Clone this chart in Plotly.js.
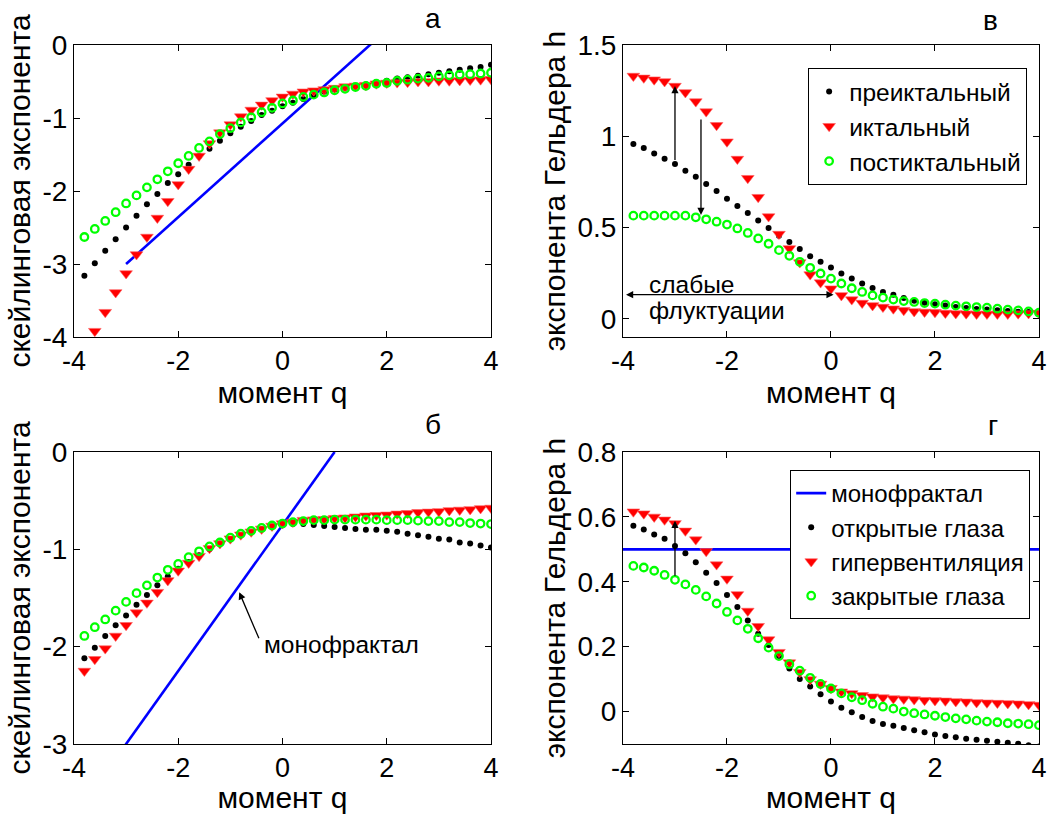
<!DOCTYPE html>
<html>
<head>
<meta charset="utf-8">
<script src="https://cdn.plot.ly/plotly-3.0.1.min.js"></script>
<style>html,body{margin:0;padding:0;background:#fff;}#chart{width:1055px;height:814px;}</style>
</head>
<body>
<div id="chart"></div>
<script>
// moment q grid
const q = [-3.8,-3.6,-3.4,-3.2,-3.0,-2.8,-2.6,-2.4,-2.2,-2.0,-1.8,-1.6,-1.4,-1.2,-1.0,-0.8,-0.6,-0.4,-0.2,0,
           0.2,0.4,0.6,0.8,1.0,1.2,1.4,1.6,1.8,2.0,2.2,2.4,2.6,2.8,3.0,3.2,3.4,3.6,3.8,4.0];

// panel а : scaling exponent
const aPre = [-3.16,-2.99,-2.82,-2.66,-2.50,-2.34,-2.18,-2.04,-1.89,-1.77,-1.64,-1.52,-1.42,-1.31,-1.21,-1.12,-1.04,-0.96,-0.90,-0.84,
              -0.79,-0.74,-0.69,-0.64,-0.61,-0.59,-0.56,-0.54,-0.51,-0.49,-0.46,-0.44,-0.42,-0.40,-0.38,-0.36,-0.34,-0.32,-0.30,-0.27];
const aIct = [-4.2,-3.92,-3.66,-3.39,-3.13,-2.87,-2.63,-2.37,-2.14,-1.91,-1.70,-1.52,-1.35,-1.20,-1.09,-0.98,-0.89,-0.82,-0.76,-0.71,
              -0.67,-0.64,-0.625,-0.61,-0.59,-0.57,-0.56,-0.55,-0.53,-0.52,-0.515,-0.51,-0.50,-0.50,-0.49,-0.49,-0.485,-0.48,-0.475,-0.47];
const aPost = [-2.63,-2.52,-2.41,-2.29,-2.17,-2.06,-1.95,-1.84,-1.73,-1.62,-1.52,-1.41,-1.32,-1.22,-1.14,-1.06,-0.99,-0.92,-0.86,-0.80,
               -0.76,-0.71,-0.68,-0.65,-0.62,-0.60,-0.575,-0.56,-0.53,-0.52,-0.49,-0.475,-0.46,-0.45,-0.43,-0.415,-0.405,-0.40,-0.39,-0.38];
const aMonoQ = [-3, 4];
const aMonoY = [-3, 1.49];

// panel в : Hölder exponent
const vPre = [0.958,0.936,0.906,0.877,0.848,0.811,0.778,0.739,0.70,0.657,0.618,0.58,0.539,0.497,0.455,0.42,0.382,0.343,0.312,0.281,
              0.248,0.22,0.193,0.169,0.147,0.132,0.114,0.099,0.088,0.079,0.072,0.064,0.059,0.053,0.05,0.046,0.042,0.039,0.037,0.035];
const vIct = [1.33,1.32,1.31,1.30,1.275,1.24,1.19,1.135,1.06,0.97,0.875,0.77,0.666,0.56,0.464,0.385,0.308,0.242,0.198,0.165,
              0.128,0.105,0.086,0.073,0.064,0.055,0.046,0.04,0.037,0.035,0.031,0.029,0.028,0.026,0.026,0.026,0.026,0.028,0.029,0.031];
const vPost = [0.565,0.565,0.565,0.565,0.565,0.565,0.556,0.545,0.532,0.516,0.495,0.47,0.44,0.411,0.376,0.345,0.312,0.279,0.248,0.22,
               0.193,0.167,0.147,0.128,0.116,0.105,0.097,0.092,0.086,0.083,0.077,0.072,0.068,0.064,0.061,0.055,0.05,0.046,0.04,0.033];

// panel б : scaling exponent
const bOpen = [-2.12,-2.01,-1.89,-1.78,-1.68,-1.57,-1.47,-1.37,-1.28,-1.20,-1.13,-1.06,-1.00,-0.94,-0.90,-0.855,-0.82,-0.79,-0.765,-0.75,
               -0.74,-0.74,-0.75,-0.76,-0.77,-0.78,-0.79,-0.80,-0.80,-0.81,-0.82,-0.84,-0.855,-0.87,-0.89,-0.90,-0.93,-0.94,-0.96,-0.98];
const bHyper = [-2.25,-2.13,-2.02,-1.89,-1.78,-1.65,-1.55,-1.44,-1.32,-1.22,-1.14,-1.07,-0.99,-0.94,-0.89,-0.85,-0.82,-0.79,-0.76,-0.735,
                -0.72,-0.70,-0.695,-0.69,-0.68,-0.675,-0.665,-0.655,-0.65,-0.645,-0.635,-0.63,-0.62,-0.615,-0.61,-0.60,-0.595,-0.59,-0.58,-0.575];
const bClosed = [-1.89,-1.80,-1.72,-1.63,-1.54,-1.45,-1.37,-1.29,-1.21,-1.15,-1.08,-1.02,-0.97,-0.93,-0.88,-0.84,-0.81,-0.78,-0.755,-0.735,
                 -0.72,-0.71,-0.70,-0.70,-0.695,-0.695,-0.695,-0.695,-0.695,-0.70,-0.70,-0.70,-0.705,-0.71,-0.71,-0.72,-0.72,-0.73,-0.735,-0.74];
const bMonoQ = [-3.2, 1];
const bMonoY = [-3.15, 0];

// panel г : Hölder exponent
const gOpen = [0.573,0.561,0.546,0.533,0.51,0.488,0.46,0.428,0.396,0.359,0.322,0.281,0.24,0.205,0.171,0.133,0.10,0.077,0.053,0.031,
               0.012,-0.002,-0.017,-0.029,-0.038,-0.044,-0.051,-0.058,-0.064,-0.071,-0.075,-0.079,-0.084,-0.087,-0.09,-0.093,-0.096,-0.099,-0.104,-0.108];
const gHyper = [0.616,0.61,0.60,0.591,0.58,0.557,0.53,0.494,0.453,0.409,0.361,0.31,0.263,0.222,0.183,0.151,0.121,0.099,0.085,0.072,
                0.061,0.056,0.05,0.046,0.043,0.04,0.039,0.037,0.035,0.034,0.033,0.031,0.03,0.028,0.027,0.026,0.025,0.024,0.022,0.02];
const gClosed = [0.449,0.444,0.434,0.421,0.406,0.392,0.375,0.355,0.333,0.307,0.281,0.255,0.226,0.197,0.171,0.146,0.126,0.104,0.085,0.071,
                 0.056,0.044,0.035,0.024,0.015,0.009,0.0,-0.005,-0.009,-0.013,-0.017,-0.021,-0.024,-0.028,-0.031,-0.033,-0.036,-0.037,-0.039,-0.042];
const gMonoQ = [-4, 4];
const gMonoY = [0.5, 0.5];

const xTicks = [-4,-2,0,2,4];
const xTickText = ['-4','-2','0','2','4'];
const yTicksA = [-4,-3,-2,-1,0], yTextA = ['-4','-3','-2','-1','0'];
const yTicksV = [0,0.5,1,1.5], yTextV = ['0','0.5','1','1.5'];
const yTicksB = [-3,-2,-1,0], yTextB = ['-3','-2','-1','0'];
const yTicksG = [0,0.2,0.4,0.6,0.8], yTextG = ['0','0.2','0.4','0.6','0.8'];

const FONT = 'Liberation Sans, Arial, Helvetica, sans-serif';
const BLACK = '#000000', RED = '#ff0000', GREEN = '#00ff00', BLUE = '#0000ff';

function pre(x, y, xa, ya, name, leg, show) {
  return {x, y, xaxis: xa, yaxis: ya, name, type: 'scatter', mode: 'markers', legend: leg, showlegend: show,
          marker: {symbol: 'circle', size: 6, color: BLACK}, cliponaxis: true};
}
function ict(x, y, xa, ya, name, leg, show) {
  return {x, y, xaxis: xa, yaxis: ya, name, type: 'scatter', mode: 'markers', legend: leg, showlegend: show,
          marker: {symbol: 'triangle-down', size: 11, color: RED, line: {width: 0.6, color: '#ff6060'}}, cliponaxis: true};
}
function post(x, y, xa, ya, name, leg, show) {
  return {x, y, xaxis: xa, yaxis: ya, name, type: 'scatter', mode: 'markers', legend: leg, showlegend: show,
          marker: {symbol: 'circle-open', size: 7.5, color: GREEN, line: {width: 2.3, color: GREEN}}, cliponaxis: true};
}
function mono(x, y, xa, ya, name, leg, show) {
  return {x, y, xaxis: xa, yaxis: ya, name, type: 'scatter', mode: 'lines', legend: leg, showlegend: show,
          line: {color: BLUE, width: 2.6}, cliponaxis: true};
}

const data = [
  mono(aMonoQ, aMonoY, 'x', 'y', 'монофрактал', 'legend', false),
  pre(q, aPre, 'x', 'y', 'преиктальный', 'legend', false),
  ict(q, aIct, 'x', 'y', 'иктальный', 'legend', false),
  post(q, aPost, 'x', 'y', 'постиктальный', 'legend', false),

  pre(q, vPre, 'x2', 'y2', 'преиктальный', 'legend', true),
  ict(q, vIct, 'x2', 'y2', 'иктальный', 'legend', true),
  post(q, vPost, 'x2', 'y2', 'постиктальный', 'legend', true),

  mono(bMonoQ, bMonoY, 'x3', 'y3', 'монофрактал', 'legend2', false),
  pre(q, bOpen, 'x3', 'y3', 'открытые глаза', 'legend2', false),
  ict(q, bHyper, 'x3', 'y3', 'гипервентиляция', 'legend2', false),
  post(q, bClosed, 'x3', 'y3', 'закрытые глаза', 'legend2', false),

  mono(gMonoQ, gMonoY, 'x4', 'y4', 'монофрактал', 'legend2', true),
  pre(q, gOpen, 'x4', 'y4', 'открытые глаза', 'legend2', true),
  ict(q, gHyper, 'x4', 'y4', 'гипервентиляция', 'legend2', true),
  post(q, gClosed, 'x4', 'y4', 'закрытые глаза', 'legend2', true)
];

function xax(domain, anchor) {
  return {domain, anchor, range: [-4, 4], tickvals: xTicks, ticktext: xTickText,
          showline: true, linecolor: BLACK, linewidth: 1, mirror: 'ticks', ticks: 'inside', ticklen: 6, tickcolor: BLACK,
          showgrid: false, zeroline: false, tickfont: {size: 27, color: BLACK, family: FONT},
          title: {text: 'момент q', font: {size: 30, color: BLACK, family: FONT}, standoff: 0}};
}
function yax(domain, anchor, range, tv, tt, title) {
  return {domain, anchor, range, tickvals: tv, ticktext: tt,
          showline: true, linecolor: BLACK, linewidth: 1, mirror: 'ticks', ticks: 'inside', ticklen: 6, tickcolor: BLACK,
          showgrid: false, zeroline: false, tickfont: {size: 28, color: BLACK, family: FONT},
          title: {text: title, font: {size: 30, color: BLACK, family: FONT}, standoff: 2}};
}

const LX = [0.0701, 0.4654], RX = [0.5905, 0.9848];
const TY = [0.586, 0.9447], BY = [0.086, 0.4447];

function arrow(xr, yr, x, y, ax, ay, side) {
  return {xref: xr, yref: yr, axref: xr, ayref: yr, x, y, ax, ay, text: '', showarrow: true,
          arrowhead: 2, arrowsize: 1.1, arrowwidth: 1.3, arrowcolor: BLACK, arrowside: side || 'end',
          standoff: 0, startstandoff: 0};
}
function label(text, x, y) {
  return {xref: 'paper', yref: 'paper', x, y, text, showarrow: false, xanchor: 'center', yanchor: 'middle',
          font: {size: 28, color: BLACK, family: FONT}};
}

const layout = {
  width: 1055, height: 814,
  margin: {l: 0, r: 0, t: 0, b: 0},
  paper_bgcolor: '#ffffff', plot_bgcolor: '#ffffff',
  font: {family: FONT, color: BLACK},
  xaxis: xax(LX, 'y'),
  yaxis: yax(TY, 'x', [-4, 0], yTicksA, yTextA, 'скейлинговая экспонента'),
  xaxis2: xax(RX, 'y2'),
  yaxis2: yax(TY, 'x2', [-0.1, 1.5], yTicksV, yTextV, 'экспонента Гельдера h'),
  xaxis3: xax(LX, 'y3'),
  yaxis3: yax(BY, 'x3', [-3, 0], yTicksB, yTextB, 'скейлинговая экспонента'),
  xaxis4: xax(RX, 'y4'),
  yaxis4: yax(BY, 'x4', [-0.1, 0.8], yTicksG, yTextG, 'экспонента Гельдера h'),
  legend: {x: 0.766, y: 0.9165, xanchor: 'left', yanchor: 'top', bgcolor: '#ffffff', bordercolor: BLACK, borderwidth: 1,
           font: {size: 24.5, color: BLACK, family: FONT}, tracegroupgap: 0},
  legend2: {x: 0.749, y: 0.4226, xanchor: 'left', yanchor: 'top', bgcolor: '#ffffff', bordercolor: BLACK, borderwidth: 1,
            font: {size: 24, color: BLACK, family: FONT}, tracegroupgap: 0},
  annotations: [
    label('а', 0.4104, 0.977),
    label('в', 0.9384, 0.975),
    label('б', 0.4104, 0.478),
    label('г', 0.9412, 0.477),
    arrow('x2', 'y2', -3.0, 1.275, -3.0, 0.862),
    arrow('x2', 'y2', -2.5, 0.569, -2.5, 1.10),
    arrow('x2', 'y2', 0.05, 0.132, -3.97, 0.132, 'end+start'),
    {xref: 'x2', yref: 'y2', x: -3.54, y: 0.19, text: 'слабые', showarrow: false, xanchor: 'left', yanchor: 'middle',
     font: {size: 24.5, color: BLACK, family: FONT}},
    {xref: 'x2', yref: 'y2', x: -3.54, y: 0.045, text: 'флуктуации', showarrow: false, xanchor: 'left', yanchor: 'middle',
     font: {size: 24.5, color: BLACK, family: FONT}},
    arrow('x4', 'y4', -3.0, 0.588, -3.0, 0.414),
    arrow('x3', 'y3', -0.83, -1.44, -0.44, -1.93),
    {xref: 'x3', yref: 'y3', x: -0.39, y: -1.98, text: 'монофрактал', showarrow: false, xanchor: 'left', yanchor: 'middle',
     font: {size: 24.5, color: BLACK, family: FONT}}
  ]
};

Plotly.newPlot('chart', data, layout, {staticPlot: true, displayModeBar: false});
</script>
</body>
</html>
